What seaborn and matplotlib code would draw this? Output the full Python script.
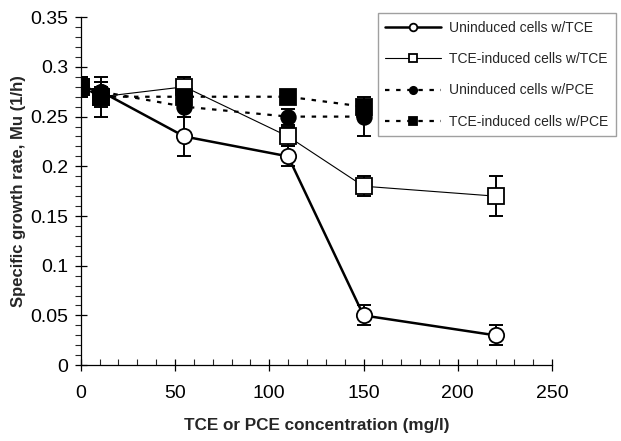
import matplotlib
matplotlib.use('Agg')
import matplotlib.pyplot as plt
import seaborn as sns
import pandas as pd
from matplotlib.ticker import MultipleLocator, FuncFormatter

# Data
conc_tce = [0, 11, 55, 110, 150, 220]
uninduced_tce = [0.28, 0.275, 0.23, 0.21, 0.05, 0.03]
uninduced_tce_err = [0.01, 0.01, 0.02, 0.01, 0.01, 0.01]
induced_tce = [0.28, 0.27, 0.28, 0.23, 0.18, 0.17]
induced_tce_err = [0.01, 0.01, 0.01, 0.01, 0.01, 0.02]

conc_pce = [0, 11, 55, 110, 150]
uninduced_pce = [0.28, 0.275, 0.26, 0.25, 0.25]
uninduced_pce_err = [0.01, 0.01, 0.01, 0.008, 0.02]
induced_pce = [0.28, 0.27, 0.27, 0.27, 0.26]
induced_pce_err = [0.01, 0.02, 0.02, 0.005, 0.005]

series = [
    ('Uninduced cells w/TCE', conc_tce, uninduced_tce, uninduced_tce_err,
     dict(marker='o', markersize=11, markerfacecolor='white', linestyle='-', linewidth=1.8)),
    ('TCE-induced cells w/TCE', conc_tce, induced_tce, induced_tce_err,
     dict(marker='s', markersize=11, markerfacecolor='white', linestyle='-', linewidth=0.8)),
    ('Uninduced cells w/PCE', conc_pce, uninduced_pce, uninduced_pce_err,
     dict(marker='o', markersize=10.5, markerfacecolor='black', linestyle=(0, (2, 3)), linewidth=1.6)),
    ('TCE-induced cells w/PCE', conc_pce, induced_pce, induced_pce_err,
     dict(marker='s', markersize=11, markerfacecolor='black', linestyle=(0, (2, 3)), linewidth=1.6)),
]

sns.set_theme(style='ticks')
plt.rcParams['font.family'] = ['Liberation Sans', 'DejaVu Sans']

fig = plt.figure(figsize=(6.21, 4.41), dpi=100)
ax = fig.add_axes([0.130, 0.172, 0.759, 0.789])

for label, xs, ys, errs, style in series:
    df = pd.DataFrame({'x': xs, 'y': ys})
    ax.errorbar(xs, ys, yerr=errs, fmt='none', ecolor='black', elinewidth=1.4,
                capsize=5, capthick=1.4, zorder=2)
    sns.lineplot(data=df, x='x', y='y', ax=ax, color='black', label=label,
                 markeredgecolor='black', markeredgewidth=1.3, zorder=3, **style)

ax.set_xlim(0, 250)
ax.set_ylim(0, 0.35)
ax.xaxis.set_major_locator(MultipleLocator(50))
ax.xaxis.set_minor_locator(MultipleLocator(10))
ax.yaxis.set_major_locator(MultipleLocator(0.05))
ax.yaxis.set_minor_locator(MultipleLocator(0.01))
ax.yaxis.set_major_formatter(FuncFormatter(lambda v, p: f'{v:g}'))

ax.tick_params(axis='both', which='major', direction='inout', length=8, width=0.9,
               labelsize=14, colors='black', pad=5)
ax.tick_params(axis='x', which='major', pad=10)
ax.tick_params(axis='x', which='minor', direction='in', length=4, width=0.8)
ax.tick_params(axis='y', which='minor', direction='out', length=4, width=0.8)

for side in ('top', 'right'):
    ax.spines[side].set_visible(False)
for side in ('left', 'bottom'):
    ax.spines[side].set_linewidth(0.9)
    ax.spines[side].set_color('black')

ax.set_xlabel('TCE or PCE concentration (mg/l)', fontsize=12.3, fontweight='bold', labelpad=12)
ax.set_ylabel('Specific growth rate, Mu (1/h)', fontsize=12, fontweight='bold', labelpad=3)

handles, labels = ax.get_legend_handles_labels()
leg = ax.legend(handles, labels, loc='upper right', bbox_to_anchor=(0.992, 0.9705),
                bbox_transform=fig.transFigure, borderaxespad=0,
                fontsize=10, frameon=True, fancybox=False, edgecolor='#888888',
                markerscale=0.5, handlelength=4.0, labelspacing=1.25,
                borderpad=0.55, handletextpad=0.6)
leg.get_frame().set_linewidth(1.0)

fig.savefig('out.png', dpi=100, facecolor='white')
